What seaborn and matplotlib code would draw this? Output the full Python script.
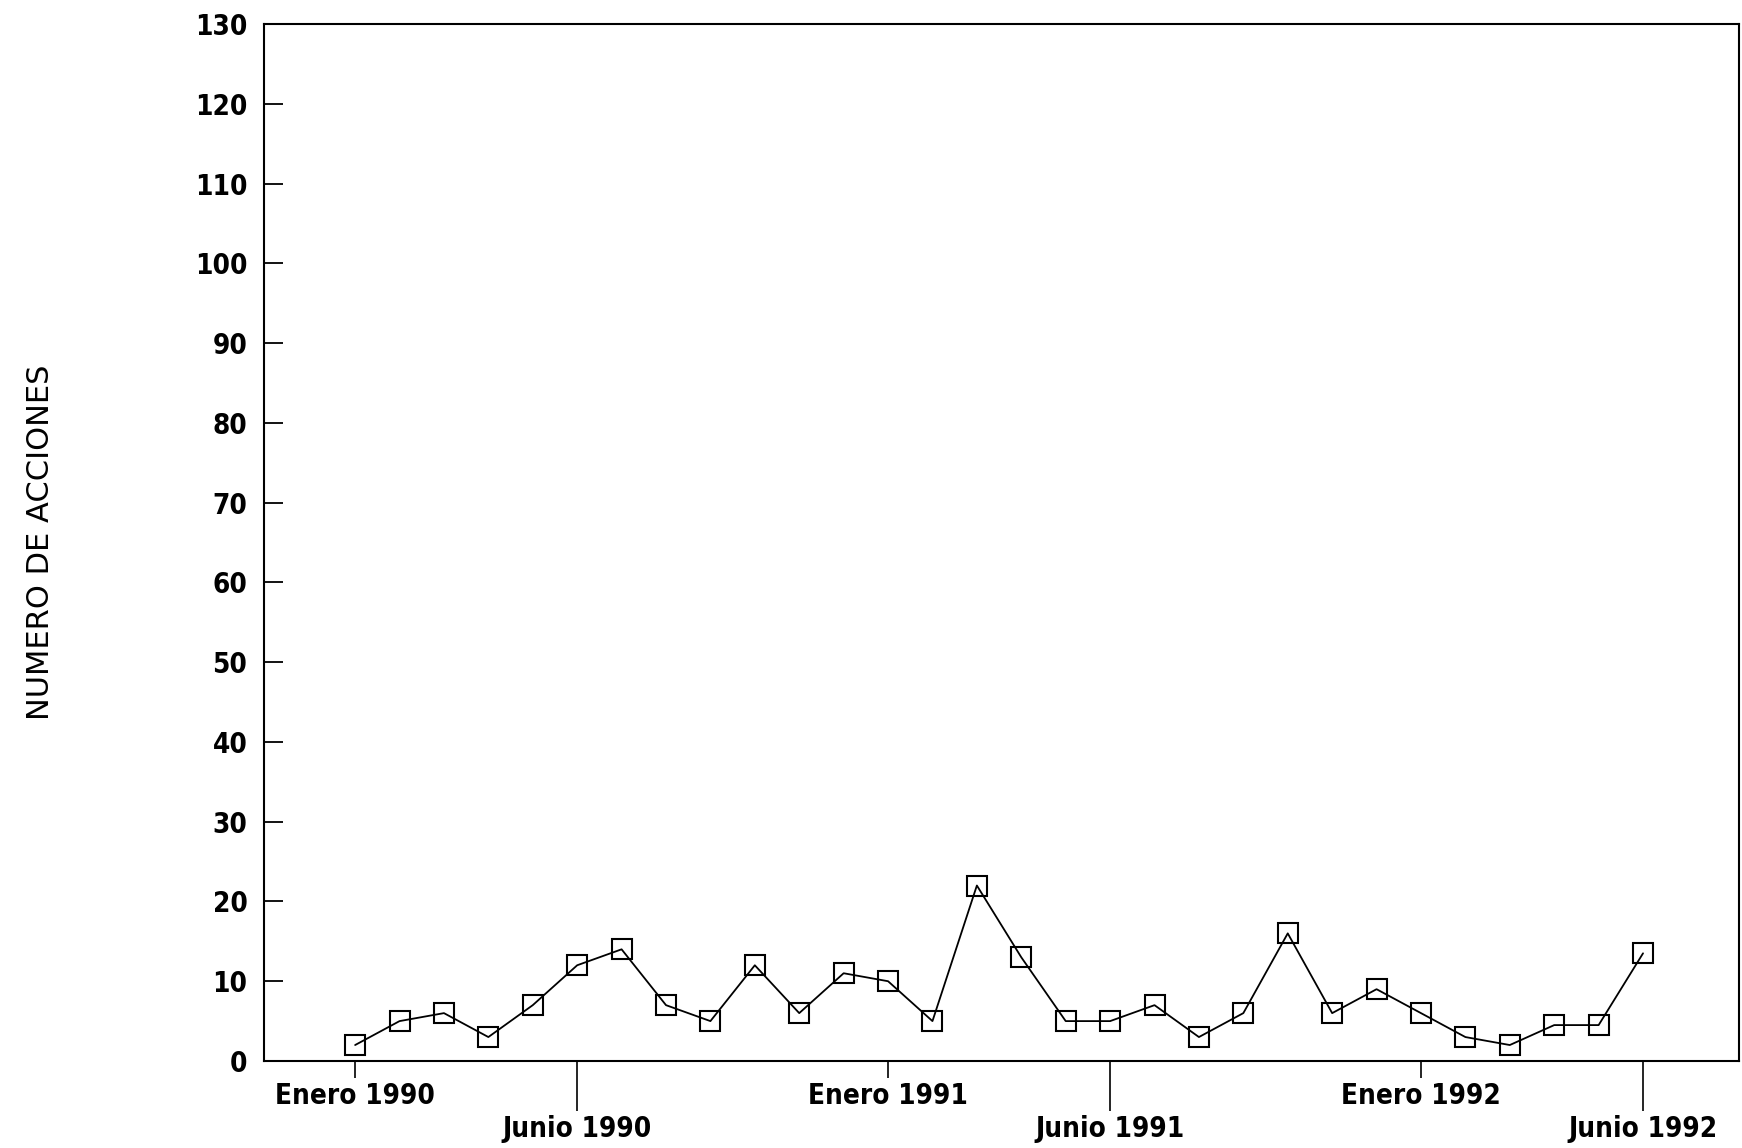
import numpy as np
import pandas as pd
import seaborn as sns
import matplotlib.pyplot as plt

# monthly counts, Enero 1990 .. Junio 1992
mes = list(range(30))
acciones = [2, 5, 6, 3, 7, 12, 14, 7, 5, 12, 6, 11, 10, 5, 22, 13, 5, 5, 7, 3,
            6, 16, 6, 9, 6, 3, 2, 4.5, 4.5, 13.5]

enero_pos = [0, 12, 24]
enero_labels = ["Enero 1990", "Enero 1991", "Enero 1992"]
junio_pos = [5, 17, 29]
junio_labels = ["Junio 1990", "Junio 1991", "Junio 1992"]
y_ticks = list(range(0, 131, 10))

sns.set_style("white")
plt.rcParams['font.family'] = ['DejaVu Sans']
plt.rcParams['text.color'] = 'black'
plt.rcParams['axes.labelcolor'] = 'black'
plt.rcParams['xtick.color'] = 'black'
plt.rcParams['ytick.color'] = 'black'

df = pd.DataFrame({"mes": mes, "acciones": acciones})

fig = plt.figure(figsize=(17.42, 11.48), dpi=100)
ax = fig.add_axes([0.1516, 0.0758, 0.8464, 0.9032])

sns.lineplot(data=df, x="mes", y="acciones", ax=ax, color="black", lw=1.3,
             marker="s", markersize=14, markerfacecolor="none",
             markeredgecolor="black", markeredgewidth=1.5)

ax.set_xlim(-2.05, 31.15)
ax.set_ylim(0, 130)

lbl = dict(fontsize=20, fontweight="bold", fontstretch="condensed")

ax.set_yticks(y_ticks)
ax.set_yticklabels([str(v) for v in y_ticks], **lbl)
ax.tick_params(axis="y", left=True, direction="in", length=14, width=1.3, pad=12)

ax.set_xticks(enero_pos)
ax.set_xticklabels(enero_labels, **lbl)
ax.set_xticks(junio_pos, minor=True)
ax.set_xticklabels(junio_labels, minor=True, **lbl)
ax.tick_params(axis="x", which="major", bottom=True, direction="out",
               length=12, width=1.2, pad=3)
ax.tick_params(axis="x", which="minor", bottom=True, direction="out",
               length=36, width=1.2, pad=3)

for s in ax.spines.values():
    s.set_visible(True)
    s.set_color("black")
    s.set_linewidth(1.5)

ax.set_xlabel("")
ax.set_ylabel("NUMERO DE ACCIONES", fontsize=22)
ax.yaxis.set_label_coords(-0.142, 0.5)

fig.savefig("out.png", dpi=100, facecolor="white")
